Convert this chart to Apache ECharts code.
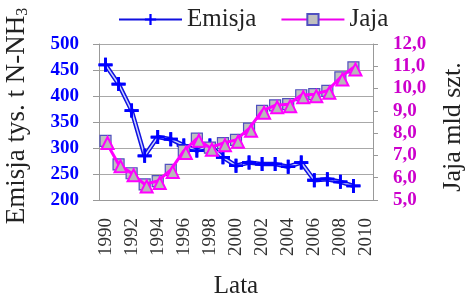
<!DOCTYPE html>
<html>
<head>
<meta charset="utf-8">
<script src="https://cdn.jsdelivr.net/npm/echarts@6/dist/echarts.min.js"></script>
<style>
  html, body { margin: 0; padding: 0; background: #fff; }
  #chart { width: 466px; height: 300px; }
</style>
</head>
<body>
<div id="chart"></div>
<script>
const years = ["1990", "1991", "1992", "1993", "1994", "1995", "1996", "1997", "1998", "1999", "2000",
  "2001", "2002", "2003", "2004", "2005", "2006", "2007", "2008", "2009", "2010"];
const emisja = [460, 423, 372, 285, 321, 317, 305, 295, 305, 282, 266, 272, 269, 269, 264, 272, 238, 240, 235, 227];
const jaja = [7.65, 6.6, 6.2, 5.7, 5.85, 6.35, 7.2, 7.75, 7.35, 7.55, 7.7, 8.2, 9.0, 9.25, 9.3, 9.7, 9.75, 9.9, 10.5, 10.95];

(() => {
  const serif = "'Liberation Serif', serif";
  const plus = "path://M4,0H6V4H10V6H6V10H4V6H0V4H4Z";
  const el = document.getElementById("chart");

  function option() {
    return {
      animation: false,
      textStyle: { fontFamily: serif },
      legend: {
        top: 2, left: 113,
        data: ["Emisja", "Jaja"],
        itemWidth: 63, itemHeight: 14, itemGap: 24,
        textStyle: { fontFamily: serif, fontSize: 25, color: "#222" }
      },
      grid: { left: 99, right: 93, top: 44, bottom: 100, outerBoundsMode: "none" },
      xAxis: {
        type: "category", data: years, boundaryGap: true,
        name: "Lata", nameLocation: "middle", nameGap: 74,
        nameTextStyle: { fontFamily: serif, fontSize: 25, color: "#222" },
        axisLine: { lineStyle: { color: "#999" } },
        axisTick: { length: 5, interval: 0, lineStyle: { color: "#999" } },
        axisLabel: { interval: 1, rotate: 90, margin: 18, fontFamily: serif, fontSize: 19, color: "#333" }
      },
      yAxis: [{
        type: "value", min: 200, max: 500, interval: 50, position: "left",
        name: "Emisja tys. t N-NH{s|3}", nameLocation: "middle", nameGap: 68, nameRotate: 90,
        nameTextStyle: { fontFamily: serif, fontSize: 27, color: "#222", padding: [0, 0, 0, 12],
          rich: { s: { fontFamily: serif, fontSize: 16, padding: [13, 0, 0, 0] } } },
        axisLine: { show: true, lineStyle: { color: "#999" } },
        axisTick: { show: true, length: 6, lineStyle: { color: "#999" } },
        splitLine: { lineStyle: { color: "#a8a8a8" } },
        axisLabel: { margin: 20, fontFamily: serif, fontSize: 19, fontWeight: "bold", color: "#0000ff" }
      }, {
        type: "value", min: 5, max: 12, interval: 1, position: "right",
        name: "Jaja mld szt.", nameLocation: "middle", nameGap: 67, nameRotate: 90,
        nameTextStyle: { fontFamily: serif, fontSize: 26, color: "#222", padding: [0, 10, 0, 0] },
        axisLine: { show: true, lineStyle: { color: "#999" } },
        axisTick: { show: true, length: 5, lineStyle: { color: "#999" } },
        splitLine: { show: false },
        axisLabel: { margin: 20, fontFamily: serif, fontSize: 19, fontWeight: "bold", color: "#cc00cc",
          formatter: v => v.toFixed(1).replace(".", ",") }
      }],
      series: [{
        name: "Emisja", type: "line", yAxisIndex: 0, data: emisja, z: 2,
        symbol: plus, symbolSize: 14, showAllSymbol: true,
        lineStyle: { color: "#1010e0", width: 4.5 },
        itemStyle: { color: "#0000ff" }
      }, {
        name: "Emisja-inner", type: "line", yAxisIndex: 0, data: emisja, z: 3, silent: true,
        symbol: "none", lineStyle: { color: "#c8d0ff", width: 1.5 }
      }, {
        name: "Emisja-marks", type: "line", yAxisIndex: 0, data: emisja, z: 4, silent: true,
        symbol: plus, symbolSize: 14, showAllSymbol: true, lineStyle: { width: 0 },
        itemStyle: { color: "#0000ff" }
      }, {
        name: "Jaja", type: "line", yAxisIndex: 1, data: jaja, z: 5,
        symbol: "rect", symbolSize: 11, showAllSymbol: true,
        lineStyle: { color: "#ee00ee", width: 1.5 },
        itemStyle: { color: "#c0c0c0", borderColor: "#5050c0", borderWidth: 1.2 }
      }, {
        name: "Jaja-tri", type: "line", yAxisIndex: 1, data: jaja, z: 6, silent: true,
        symbol: "triangle", symbolSize: 12, symbolOffset: [2, 2], showAllSymbol: true,
        lineStyle: { color: "#ff00ff", width: 3 },
        itemStyle: { color: "#b8b8b8", borderColor: "#ff00ff", borderWidth: 2 }
      }]
    };
  }

  let chart = echarts.init(el, null, { renderer: "canvas" });
  chart.setOption(option());
  // redraw once the serif face is surely available
  Promise.all([
    document.fonts.load("25px 'Liberation Serif'"),
    document.fonts.load("bold 19px 'Liberation Serif'")
  ]).then(() => {
    chart.dispose();
    chart = echarts.init(el, null, { renderer: "canvas" });
    chart.setOption(option());
  });
})();
</script>
</body>
</html>
